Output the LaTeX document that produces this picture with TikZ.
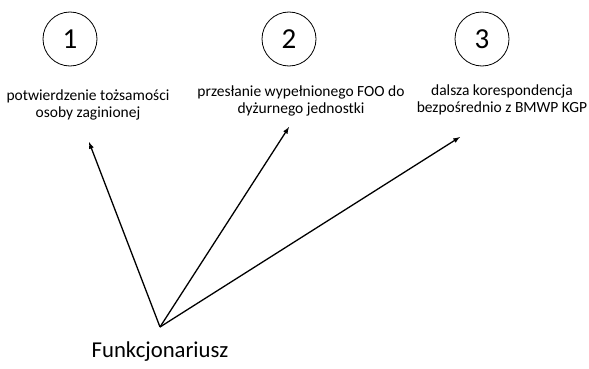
\documentclass[tikz,border=0pt]{standalone}
\usepackage{fontspec}
\setmainfont{Carlito}
\begin{document}
\begin{tikzpicture}[x=1pt,y=-1pt,
    num/.style={circle,draw,line width=0.8pt,minimum size=54pt,inner sep=0pt,font=\fontsize{29}{29}\selectfont},
    task/.style={align=center,font=\fontsize{15.5}{17}\selectfont,inner sep=0pt}]
      \useasboundingbox (0,0) rectangle (589,369);
      \draw
        (70,39) node[num] (n1){1}
        (289,39) node[num] (n2){2}
        (482,39) node[num] (n3){3}
        (88,105) node[task] (t1){potwierdzenie tożsamości\\osoby zaginionej}
        (301,101) node[task] (t2){przesłanie wypełnionego FOO do\\dyżurnego jednostki}
        (502,100) node[task] (t3){dalsza korespondencja\\bezpośrednio z BMWP KGP}
        (160,352) node[font=\fontsize{22.7}{22.7}\selectfont] (f){Funkcjonariusz};
      \coordinate (apex) at (160,327);
      \coordinate (e1) at (89,142);
      \coordinate (e2) at (289,127);
      \coordinate (e3) at (460,137);
      \begin{scope}[-latex,line width=1.3pt]
        \draw (apex) to (e1);
        \draw (apex) to (e2);
        \draw (apex) to (e3);
      \end{scope}
    \end{tikzpicture}
\end{document}
